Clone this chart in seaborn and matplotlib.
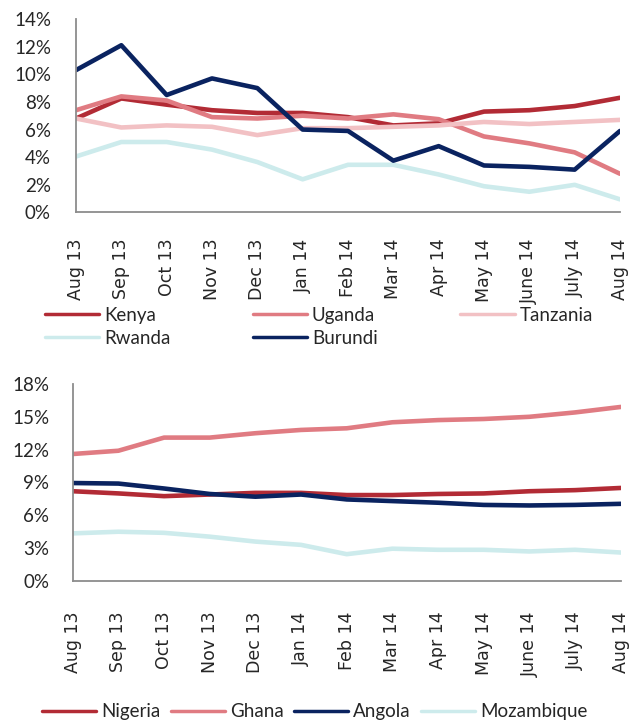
import matplotlib
matplotlib.use('Agg')
import matplotlib.pyplot as plt
from matplotlib.ticker import PercentFormatter
import numpy as np
import pandas as pd
import seaborn as sns

months = ['Aug 13', 'Sep 13', 'Oct 13', 'Nov 13', 'Dec 13', 'Jan 14', 'Feb 14',
          'Mar 14', 'Apr 14', 'May 14', 'June 14', 'July 14', 'Aug 14']

# East Africa (%)
kenya = [6.8, 8.25, 7.8, 7.4, 7.2, 7.2, 6.9, 6.3, 6.45, 7.3, 7.4, 7.7, 8.3]
uganda = [7.4, 8.4, 8.1, 6.9, 6.8, 7.0, 6.8, 7.1, 6.75, 5.5, 5.0, 4.35, 2.8]
tanzania = [6.8, 6.15, 6.3, 6.2, 5.6, 6.1, 6.1, 6.2, 6.3, 6.55, 6.4, 6.55, 6.7]
rwanda = [4.05, 5.1, 5.1, 4.55, 3.65, 2.4, 3.45, 3.45, 2.75, 1.9, 1.5, 2.0, 0.95]
burundi = [10.3, 12.1, 8.5, 9.7, 9.0, 6.0, 5.9, 3.75, 4.8, 3.4, 3.3, 3.1, 5.9]

# West / Southern Africa (%)
nigeria = [8.2, 8.0, 7.75, 7.9, 8.05, 8.05, 7.85, 7.85, 7.95, 8.0, 8.2, 8.3, 8.5]
ghana = [11.6, 11.9, 13.1, 13.1, 13.5, 13.8, 13.95, 14.5, 14.7, 14.8, 15.0, 15.4, 15.9]
angola = [8.95, 8.9, 8.45, 7.95, 7.7, 7.9, 7.45, 7.3, 7.15, 6.95, 6.9, 6.95, 7.05]
mozambique = [4.35, 4.5, 4.4, 4.05, 3.6, 3.3, 2.45, 2.95, 2.85, 2.85, 2.7, 2.85, 2.6]

dark_red = '#B22B35'
salmon = '#E07B82'
pink = '#F2C1C4'
pale_cyan = '#CDEBEC'
navy = '#0A2360'


def to_long(series):
    frames = []
    for name, vals in series.items():
        frames.append(pd.DataFrame({'month': np.arange(len(months)), 'value': vals, 'country': name}))
    return pd.concat(frames, ignore_index=True)


def style_axis(ax, ymax, ystep, xpad, ypad):
    gray = '#8C8C8C'
    ax.set_xlim(0, len(months) - 1)
    ax.set_ylim(0, ymax)
    ax.set_yticks(np.arange(0, ymax + 0.1, ystep))
    ax.yaxis.set_major_formatter(PercentFormatter(decimals=0))
    ax.set_xticks(np.arange(len(months)))
    ax.set_xticklabels(months, rotation=90, fontfamily='DejaVu Sans', fontsize=12.5)
    for lab in ax.get_yticklabels():
        lab.set_fontfamily('Lato')
        lab.set_fontsize(13.5)
    ax.tick_params(axis='x', length=5, width=1.1, color=gray, pad=xpad)
    ax.tick_params(axis='y', length=5, width=1.1, color=gray, pad=ypad)
    for side in ['top', 'right']:
        ax.spines[side].set_visible(False)
    for side in ['left', 'bottom']:
        ax.spines[side].set_color(gray)
        ax.spines[side].set_linewidth(1.3)
    ax.set_xlabel('')
    ax.set_ylabel('')
    ax.grid(False)


def place_legend(ax, order, anchor, ncol, colspace):
    old = ax.get_legend()
    handles = dict(zip([t.get_text() for t in old.get_texts()], old.legend_handles))
    old.remove()
    leg = ax.legend([handles[k] for k in order], order, loc='upper left',
                    bbox_to_anchor=anchor, bbox_transform=fig.transFigure,
                    ncol=ncol, frameon=False, borderpad=0, borderaxespad=0,
                    handlelength=2.9, handletextpad=0.25, columnspacing=colspace,
                    labelspacing=0.33, prop={'family': 'Lato', 'size': 13.5})
    for h in leg.get_lines():
        h.set_linewidth(2.5)


sns.set_style('white')

fig = plt.figure(figsize=(6.38, 7.22), dpi=100)
ax1 = fig.add_axes([0.1191, 0.7057, 0.8527, 0.268])
ax2 = fig.add_axes([0.1140, 0.1953, 0.8589, 0.2729])

east = {'Kenya': kenya, 'Uganda': uganda, 'Tanzania': tanzania, 'Rwanda': rwanda, 'Burundi': burundi}
west = {'Nigeria': nigeria, 'Ghana': ghana, 'Angola': angola, 'Mozambique': mozambique}

sns.lineplot(data=to_long(east), x='month', y='value', hue='country',
             palette=[dark_red, salmon, pink, pale_cyan, navy], linewidth=3.3, ax=ax1)
sns.lineplot(data=to_long(west), x='month', y='value', hue='country',
             palette=[dark_red, salmon, navy, pale_cyan], linewidth=3.3, ax=ax2)

style_axis(ax1, 14, 2, 14, 13)
style_axis(ax2, 18, 3, 17, 12)

# matplotlib fills legend columns first, so order gives rows Kenya/Uganda/Tanzania, Rwanda/Burundi
place_legend(ax1, ['Kenya', 'Rwanda', 'Uganda', 'Burundi', 'Tanzania'], (0.0705, 0.575), 3, 4.4)
place_legend(ax2, ['Nigeria', 'Ghana', 'Angola', 'Mozambique'], (0.066, 0.026), 4, 0.55)

fig.savefig('out.png', dpi=100)
